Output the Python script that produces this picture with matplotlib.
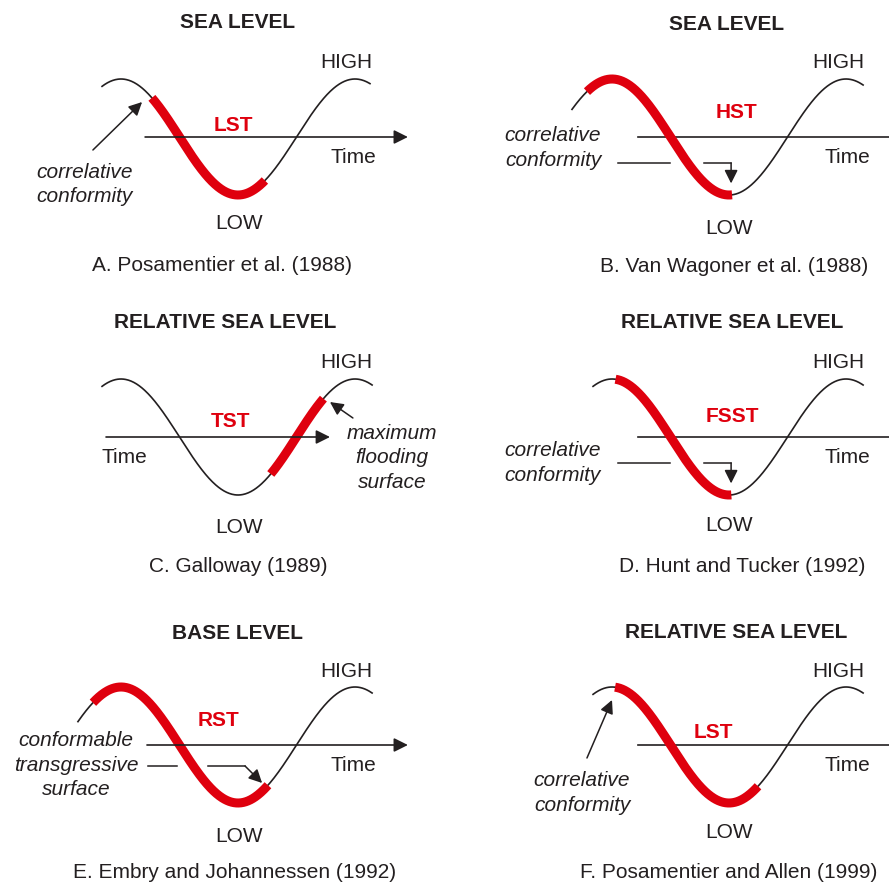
import numpy as np
import matplotlib.pyplot as plt

plt.rcParams['font.family'] = ['Liberation Sans', 'DejaVu Sans']

INK = '#231f20'
RED = '#df000e'
FS = 15

# panels A-F, read left to right, top to bottom
titles = ['SEA LEVEL', 'SEA LEVEL', 'RELATIVE SEA LEVEL', 'RELATIVE SEA LEVEL',
          'BASE LEVEL', 'RELATIVE SEA LEVEL']
captions = ['A. Posamentier et al. (1988)', 'B. Van Wagoner et al. (1988)',
            'C. Galloway (1989)', 'D. Hunt and Tucker (1992)',
            'E. Embry and Johannessen (1992)', 'F. Posamentier and Allen (1999)']
tracts = ['LST', 'HST', 'TST', 'FSST', 'RST', 'LST']
surfaces = ['correlative\nconformity', 'correlative\nconformity',
            'maximum\nflooding\nsurface', 'correlative\nconformity',
            'conformable\ntransgressive\nsurface', 'correlative\nconformity']
# sea-level curve and highlighted tract, in cycles (0 = highstand, 0.5 = lowstand)
curve_span = [(-0.081, 1.064), (-0.171, 1.073), (-0.081, 1.073),
              (-0.081, 1.073), (-0.184, 1.073), (-0.081, 1.073)]
tract_span = [(0.132, 0.615), (-0.107, 0.513), (0.64, 0.865),
              (0.015, 0.51), (-0.12, 0.628), (0.013, 0.624)]

# layout (cycles / amplitude units inside each panel)
origins = [(121, 137), (612, 137), (121, 437), (612, 437), (121, 745), (612, 745)]
PER, AMP = 234, 58   # px per cycle, px per amplitude
W, H = 445, 290
time_axis = [(0.103, 1.226, True), (0.111, 1.4, False), (-0.064, 0.893, True),
             (0.111, 1.4, False), (0.111, 1.226, True), (0.111, 1.4, False)]
pos = [
    dict(title=(0.496, 1.966), high=(0.962, 1.276), tract=(0.479, 0.19), time=(0.991, -0.345),
         low=(0.504, -1.483), cap=(0.432, -2.224), surf=(-0.154, -0.819)),
    dict(title=(0.491, 1.948), high=(0.966, 1.276), tract=(0.53, 0.414), time=(1.004, -0.362),
         low=(0.5, -1.586), cap=(0.521, -2.241), surf=(-0.252, -0.19)),
    dict(title=(0.444, 1.966), high=(0.962, 1.276), tract=(0.466, 0.259), time=(0.013, -0.345),
         low=(0.504, -1.552), cap=(0.5, -2.241), surf=(1.158, -0.362)),
    dict(title=(0.513, 1.966), high=(0.966, 1.276), tract=(0.513, 0.345), time=(1.004, -0.345),
         low=(0.5, -1.534), cap=(0.556, -2.241), surf=(-0.256, -0.448)),
    dict(title=(0.496, 1.931), high=(0.962, 1.259), tract=(0.415, 0.414), time=(0.991, -0.345),
         low=(0.504, -1.586), cap=(0.487, -2.19), surf=(-0.192, -0.345)),
    dict(title=(0.53, 1.948), high=(0.966, 1.259), tract=(0.432, 0.207), time=(1.004, -0.345),
         low=(0.5, -1.5), cap=(0.5, -2.19), surf=(-0.128, -0.828)),
]

fig = plt.figure(figsize=(8.89, 8.83), dpi=100)


def arrow(ax, tail, tip, lw=1.1, ms=20):
    ax.annotate('', xy=tip, xytext=tail,
                arrowprops=dict(arrowstyle='-|>', color=INK, lw=lw, mutation_scale=ms,
                                shrinkA=0, shrinkB=0))


for i in range(6):
    px0, py0 = origins[i]
    ax = fig.add_axes([(px0 - 121) / 889, 1 - (py0 - 137 + H) / 883, W / 889, H / 883])
    ax.set_xlim(-121 / PER, (W - 121) / PER)
    ax.set_ylim(-(H - 137) / AMP, 137 / AMP)
    ax.axis('off')

    x0, x1, head = time_axis[i]
    if head:
        arrow(ax, (x0, 0), (x1, 0), lw=1.2, ms=21)
    else:
        ax.plot([x0, x1], [0, 0], color=INK, lw=1.2)

    t = np.linspace(*curve_span[i], 400)
    ax.plot(t, np.cos(2 * np.pi * t), color=INK, lw=1.2)
    t = np.linspace(*tract_span[i], 300)
    ax.plot(t, np.cos(2 * np.pi * t), color=RED, lw=6.5, solid_capstyle='butt')

    p = pos[i]
    ax.text(*p['title'], titles[i], fontsize=FS, fontweight='bold', color=INK, ha='center', va='center')
    ax.text(*p['high'], 'HIGH', fontsize=FS, color=INK, ha='center', va='center')
    ax.text(*p['low'], 'LOW', fontsize=FS, color=INK, ha='center', va='center')
    ax.text(*p['time'], 'Time', fontsize=FS, color=INK, ha='center', va='center')
    ax.text(*p['tract'], tracts[i], fontsize=FS, fontweight='bold', color=RED, ha='center', va='center')
    ax.text(*p['cap'], captions[i], fontsize=FS, color=INK, ha='center', va='center')
    ax.text(*p['surf'], surfaces[i], fontsize=FS, style='italic', color=INK,
            ha='center', va='center', linespacing=1.37)

    if i in (1, 3):
        ax.plot([0.026, 0.248], [-0.448, -0.448], color=INK, lw=1.1)
        ax.plot([0.393, 0.509], [-0.448, -0.448], color=INK, lw=1.1)
        arrow(ax, (0.509, -0.448), (0.509, -0.8))
    elif i == 4:
        ax.plot([0.115, 0.239], [-0.362, -0.362], color=INK, lw=1.1)
        ax.plot([0.372, 0.53], [-0.362, -0.362], color=INK, lw=1.1)
        arrow(ax, (0.53, -0.362), (0.603, -0.655))
    elif i == 0:
        arrow(ax, (-0.12, -0.224), (0.09, 0.603))
    elif i == 2:
        arrow(ax, (0.991, 0.328), (0.893, 0.603))
    else:
        arrow(ax, (-0.107, -0.224), (0.0, 0.776))

fig.savefig('out.png', dpi=100, facecolor='white')
